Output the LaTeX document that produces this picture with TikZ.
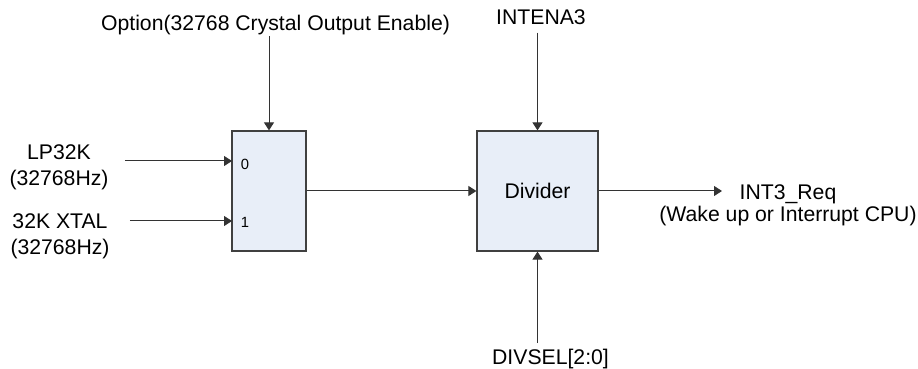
\documentclass[tikz,border=0pt]{standalone}
\usepackage{fontspec}
\setmainfont{Liberation Sans}
\usetikzlibrary{arrows.meta}

\definecolor{boxfill}{HTML}{E8EEF8}
\definecolor{boxline}{HTML}{404040}

\begin{document}
\begin{tikzpicture}[x=0.5pt, y=-0.5pt,
    blk/.style={draw=boxline, fill=boxfill, line width=0.6pt, inner sep=0pt,
      font=\fontsize{10.6}{13}\selectfont},
    sig/.style={draw=black!80, line width=0.5pt, -{Triangle[length=4pt,width=5pt]}},
    lab/.style={font=\fontsize{10.6}{13}\selectfont, align=center, inner sep=0pt},
    pinno/.style={font=\fontsize{7.4}{9}\selectfont, inner sep=0pt}]

    \useasboundingbox (0,0) rectangle (918,369);

    \node[blk, minimum width=37pt, minimum height=60pt] (mux) at (269,191) {};
    \node[blk, minimum width=60.5pt, minimum height=60pt] (div) at (537.5,191) {Divider};

    \coordinate (mux0) at (232,161);
    \coordinate (mux1) at (232,221);
    \node[pinno] (d0) at (245,164.5) {0};
    \node[pinno] (d1) at (245,222.5) {1};

    \node[lab] (lp) at (59,167.6) {LP32K\\(32768Hz)};
    \node[lab] (xtal) at (60,236.6) {32K XTAL\\(32768Hz)};
    \node[lab, anchor=base] (opt) at (275.5,31) {Option(32768 Crystal Output Enable)};
    \node[lab, anchor=base] (intena) at (541,25) {INTENA3};
    \node[lab, anchor=base] (divsel) at (550.5,365) {DIVSEL[2:0]};
    \node[lab, font=\fontsize{10.6}{9}\selectfont] (req) at (788,205.6) {INT3\_Req\\(Wake up or Interrupt CPU)};
    \coordinate (reqin) at (722,191);

    \draw[sig] ([xshift=8pt]lp.east |- mux0) -- (mux0);
    \draw[sig] ([xshift=10pt]xtal.east |- mux1) -- (mux1);
    \draw[sig] (opt.south -| mux.north) -- (mux.north);
    \draw[sig] (mux.east) -- (div.west);
    \draw[sig] ([yshift=-3.5pt]intena.south -| div.north) -- (div.north);
    \draw[sig] ([yshift=3pt]divsel.north -| div.south) -- (div.south);
    \draw[sig] (div.east) -- (reqin);

\end{tikzpicture}
\end{document}
